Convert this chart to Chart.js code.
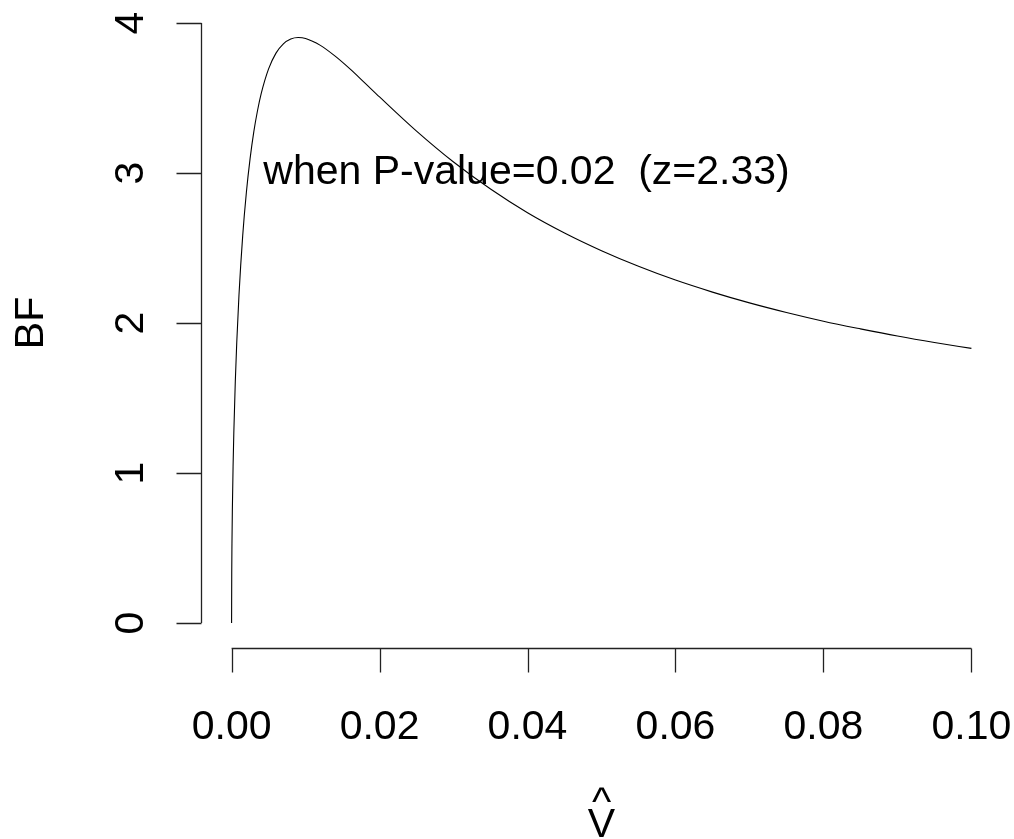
<!DOCTYPE html>
<html>
<head>
<meta charset="utf-8">
<script src="https://cdn.jsdelivr.net/npm/chart.js@4/dist/chart.umd.min.js"></script>
<style>
html,body{margin:0;padding:0;background:#fff;}
canvas{display:block;}
</style>
</head>
<body>
<canvas id="c" width="1014" height="839"></canvas>
<script>
// Values
const vHat = [0, 0.00002, 0.00005, 0.0001, 0.0002, 0.0003, 0.0005, 0.0007, 0.001, 0.0015, 0.002, 0.0025, 0.003, 0.0035, 0.004, 0.005, 0.006, 0.007, 0.008, 0.009, 0.010, 0.012, 0.014, 0.016, 0.018, 0.020, 0.025, 0.030, 0.035, 0.040, 0.045, 0.050, 0.055, 0.060, 0.065, 0.070, 0.075, 0.080, 0.085, 0.090, 0.095, 0.100];
const bf   = [0, 0.334, 0.528, 0.743, 1.042, 1.266, 1.609, 1.874, 2.189, 2.581, 2.872, 3.096, 3.274, 3.415, 3.529, 3.694, 3.799, 3.861, 3.893, 3.903, 3.897, 3.851, 3.779, 3.694, 3.601, 3.507, 3.279, 3.073, 2.893, 2.735, 2.600, 2.482, 2.378, 2.286, 2.206, 2.134, 2.070, 2.012, 1.961, 1.913, 1.870, 1.831];
const xTicks = [0, 0.02, 0.04, 0.06, 0.08, 0.10];
const xTickLabels = ["0.00", "0.02", "0.04", "0.06", "0.08", "0.10"];
const yTicks = [0, 1, 2, 3, 4];
const yTickLabels = ["0", "1", "2", "3", "4"];
const yLabel = "BF";
const xLabelHat = "^";
const xLabel = "V";
const annotationText = "when P-value=0.02  (z=2.33)";
const annotationX = 0.04;
const annotationY = 3;

const FONT = '41px "Liberation Sans", Arial, sans-serif';

const axesPlugin = {
  id: 'rAxes',
  afterDraw(chart) {
    const ctx = chart.ctx;
    const xs = chart.scales.x, ys = chart.scales.y;
    const ca = chart.chartArea;
    ctx.save();
    ctx.strokeStyle = '#222';
    ctx.lineWidth = 1.3;
    ctx.fillStyle = '#000';
    ctx.font = FONT;

    // Y axis
    const ax = Math.round(ca.left) - 0.5;
    const y0 = ys.getPixelForValue(yTicks[0]);
    const y1 = ys.getPixelForValue(yTicks[yTicks.length - 1]);
    ctx.beginPath();
    ctx.moveTo(ax, y0); ctx.lineTo(ax, y1);
    yTicks.forEach(v => {
      const py = Math.round(ys.getPixelForValue(v)) + 0.5;
      ctx.moveTo(ax, py); ctx.lineTo(ax - 25, py);
    });
    ctx.stroke();
    yTicks.forEach((v, i) => {
      const py = ys.getPixelForValue(v);
      ctx.save();
      ctx.translate(143, py);
      ctx.rotate(-Math.PI / 2);
      ctx.textAlign = 'center';
      ctx.textBaseline = 'alphabetic';
      ctx.fillText(yTickLabels[i], 0, 0);
      ctx.restore();
    });

    // X axis
    const ay = 648.5;
    const x0 = xs.getPixelForValue(xTicks[0]);
    const x1 = xs.getPixelForValue(xTicks[xTicks.length - 1]);
    ctx.beginPath();
    ctx.moveTo(x0, ay); ctx.lineTo(x1, ay);
    xTicks.forEach(v => {
      const px = Math.round(xs.getPixelForValue(v)) + 0.5;
      ctx.moveTo(px, ay); ctx.lineTo(px, ay + 24);
    });
    ctx.stroke();
    ctx.textAlign = 'center';
    ctx.textBaseline = 'alphabetic';
    xTicks.forEach((v, i) => {
      ctx.fillText(xTickLabels[i], xs.getPixelForValue(v), 739);
    });

    // Axis titles
    const cx = (ca.left + ca.right) / 2;
    ctx.fillText(xLabelHat, cx, 815);
    ctx.fillText(xLabel, cx, 837);
    ctx.save();
    ctx.translate(43, 323);
    ctx.rotate(-Math.PI / 2);
    ctx.fillText(yLabel, 0, 0);
    ctx.restore();

    // Annotation
    ctx.fillText(annotationText, xs.getPixelForValue(annotationX) - 1, ys.getPixelForValue(annotationY) + 11);
    ctx.restore();
  }
};

new Chart(document.getElementById('c'), {
  type: 'line',
  data: {
    datasets: [{
      data: vHat.map((v, i) => ({ x: v, y: bf[i] })),
      borderColor: '#000',
      borderWidth: 1.1,
      pointRadius: 0,
      fill: false,
      cubicInterpolationMode: 'monotone'
    }]
  },
  options: {
    responsive: false,
    animation: false,
    devicePixelRatio: 1,
    layout: { padding: { left: 202, right: 13, top: 10, bottom: 192 } },
    plugins: { legend: { display: false }, tooltip: { enabled: false } },
    scales: {
      x: { type: 'linear', min: -0.004, max: 0.104, display: false },
      y: { type: 'linear', min: -0.16, max: 4.0867, display: false }
    }
  },
  plugins: [axesPlugin]
});
</script>
</body>
</html>
